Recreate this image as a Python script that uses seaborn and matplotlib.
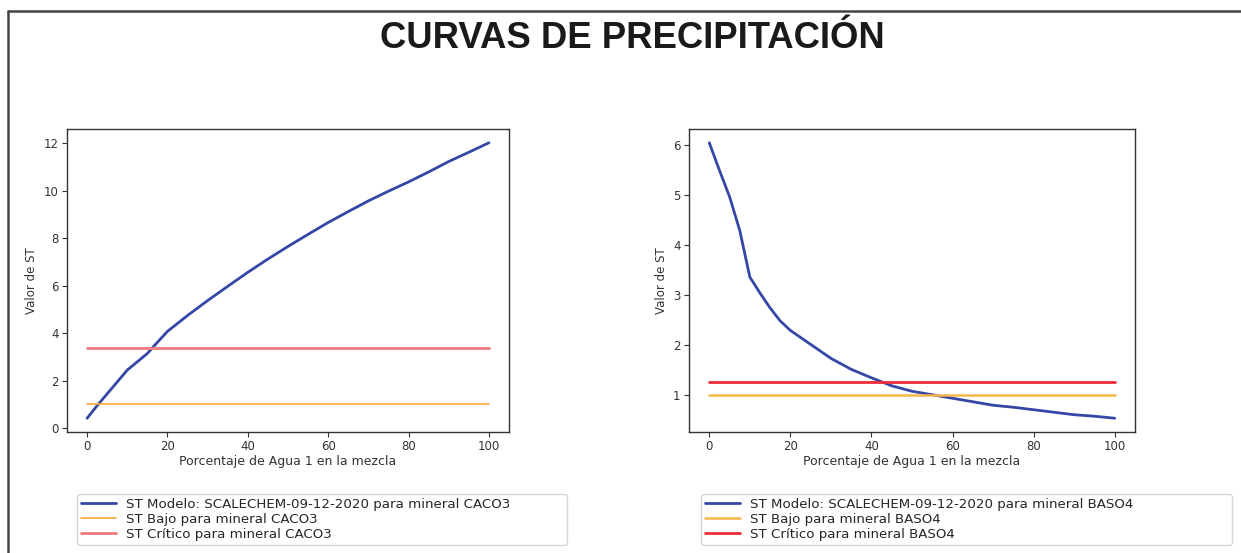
import matplotlib
matplotlib.use("Agg")
import matplotlib.pyplot as plt
import seaborn as sns
import pandas as pd
from matplotlib.lines import Line2D

# ---- data ----
x_pct = [0, 2.5, 5, 7.5, 10, 12.5, 15, 17.5, 20, 25, 30, 35, 40, 45, 50,
         55, 60, 65, 70, 75, 80, 85, 90, 95, 100]
st_caco3 = [0.42, 0.95, 1.45, 1.95, 2.45, 2.80, 3.15, 3.62, 4.08, 4.75, 5.38,
            5.98, 6.57, 7.13, 7.66, 8.17, 8.67, 9.13, 9.58, 9.99, 10.38,
            10.80, 11.24, 11.63, 12.03]
st_baso4 = [6.05, 5.50, 4.97, 4.30, 3.36, 3.04, 2.74, 2.48, 2.29, 2.01, 1.73,
            1.51, 1.34, 1.18, 1.07, 1.00, 0.93, 0.86, 0.79, 0.75, 0.70,
            0.65, 0.60, 0.57, 0.53]
bajo_caco3 = 1.0
critico_caco3 = 3.38
bajo_baso4 = 1.0
critico_baso4 = 1.26
x_range = [0, 100]

title = "CURVAS DE PRECIPITACIÓN"
xlabel = "Porcentaje de Agua 1 en la mezcla"
ylabel = "Valor de ST"
minerals = ["CACO3", "BASO4"]

sns.set_style("ticks")
plt.rcParams['font.family'] = ['DejaVu Sans']

fig = plt.figure(figsize=(12.41, 5.53), dpi=100)
W, H = 1241, 553

def axpos(x0, y0, x1, y1):
    return [x0 / W, 1 - y1 / H, (x1 - x0) / W, (y1 - y0) / H]

ax1 = fig.add_axes(axpos(67, 129, 509, 432))
ax2 = fig.add_axes(axpos(689, 129, 1135, 432))

blue = "#3547a6"
configs = [
    (ax1, st_caco3, bajo_caco3, critico_caco3, minerals[0], "#f4a93a", 1.2, "#f07a80", 2.0,
     (77, 494, 567, 548)),
    (ax2, st_baso4, bajo_baso4, critico_baso4, minerals[1], "#f7b64a", 1.8, "#ec2d3a", 2.0,
     (701, 494, 1232, 548)),
]

for ax, ys, bajo, crit, mineral, ocol, olw, rcol, rlw, lb in configs:
    df = pd.DataFrame({"x": x_pct, "y": ys})
    sns.lineplot(data=df, x="x", y="y", ax=ax, color=blue, linewidth=2.0,
                 label=f"ST Modelo: SCALECHEM-09-12-2020 para mineral {mineral}")
    sns.lineplot(x=x_range, y=[bajo, bajo], ax=ax, color=ocol, linewidth=olw,
                 label=f"ST Bajo para mineral {mineral}")
    sns.lineplot(x=x_range, y=[crit, crit], ax=ax, color=rcol, linewidth=rlw,
                 label=f"ST Crítico para mineral {mineral}")
    ax.set_xlabel(xlabel, fontsize=9, color="#333333", labelpad=1.5)
    ax.set_ylabel(ylabel, fontsize=8.5, color="#333333")
    ax.tick_params(labelsize=8.5, colors="#333333", length=3.5, pad=2.5)
    for s in ax.spines.values():
        s.set_visible(True)
        s.set_color("#333333")
        s.set_linewidth(1.0)
    ax.set_xticks([0, 20, 40, 60, 80, 100])
    ax.margins(x=0.05, y=0.05)
    bx0 = lb[0] / W
    by1 = 1 - lb[1] / H
    bw = (lb[2] - lb[0]) / W
    bh = (lb[3] - lb[1]) / H
    ax.legend(loc="upper left", bbox_to_anchor=(bx0, by1 - bh, bw, bh),
              bbox_transform=fig.transFigure, mode="expand", fontsize=9.6,
              frameon=True, fancybox=True, labelspacing=0.15, borderaxespad=0,
              handlelength=2.6, borderpad=0.3, edgecolor="#cccccc")

ax1.set_yticks([0, 2, 4, 6, 8, 10, 12])
ax2.set_yticks([1, 2, 3, 4, 5, 6])

fig.text(632 / W, 1 - 39 / H, title, ha="center", va="center",
         fontsize=26.3, fontweight="bold", family="Liberation Sans", color="#1a1a1a")

# page border
fig.add_artist(Line2D([7.5 / W, 1.0], [1 - 10.5 / H, 1 - 10.5 / H],
                      transform=fig.transFigure, color="#444444", linewidth=1.8))
fig.add_artist(Line2D([7.5 / W, 7.5 / W], [0, 1 - 10.5 / H],
                      transform=fig.transFigure, color="#444444", linewidth=1.8))

fig.savefig("out.png", dpi=100)
